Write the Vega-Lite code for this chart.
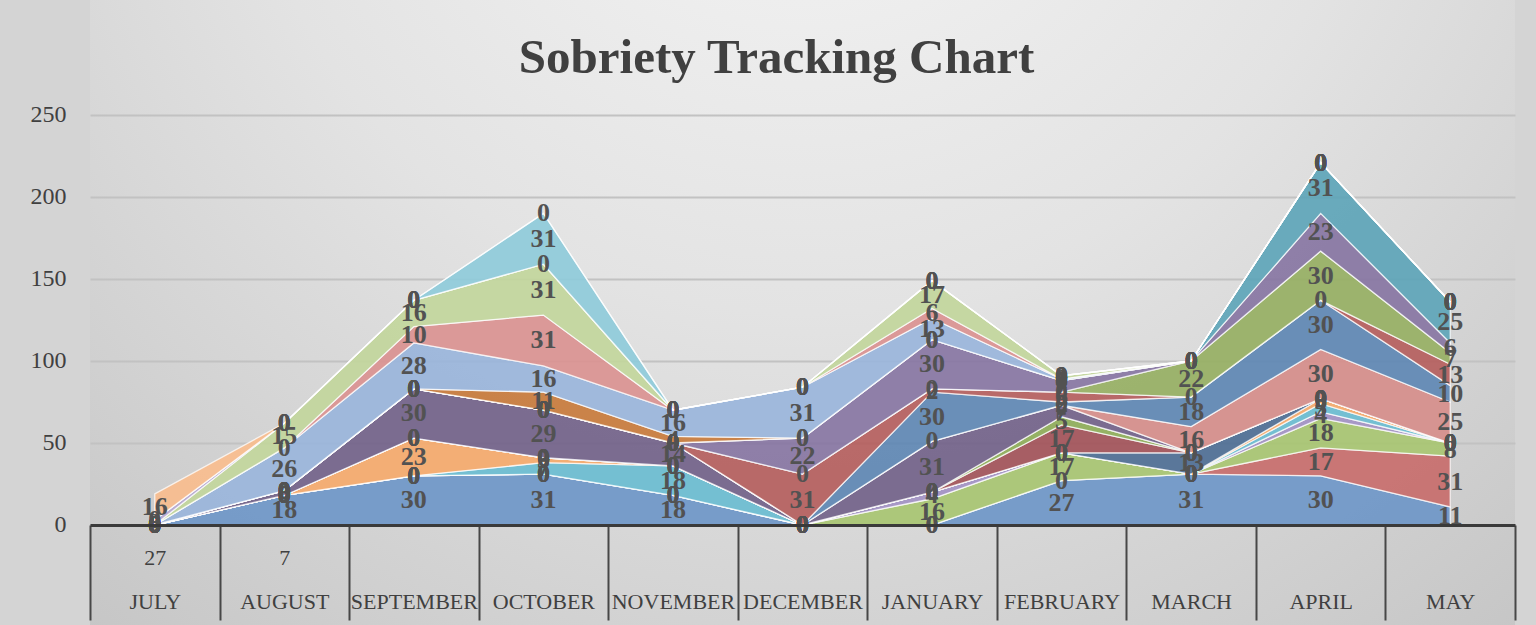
{
"$schema": "https://vega.github.io/schema/vega-lite/v6.json",
"width": 1425, "height": 625,
"autosize": {"type": "none"},
"padding": {"left": 90, "right": 21, "top": 0, "bottom": 0},
"background": "#D4D4D4",
"title": {"text": "Sobriety Tracking Chart", "font": "Liberation Serif", "fontSize": 49, "fontWeight": "bold", "color": "#404040", "anchor": "middle", "frame": "group", "baseline": "alphabetic", "offset": -75, "dx": -26, "dy": 47},
"config": {"view": {"stroke": null, "fill": {"gradient": "radial", "x1": 0.5, "y1": 0.1, "r1": 0, "x2": 0.5, "y2": 0.1, "r2": 0.8, "stops": [{"offset": 0, "color": "#F7F7F7"}, {"offset": 0.5, "color": "#E3E3E3"}, {"offset": 1, "color": "#C6C6C6"}]}}},
"data": {"values": [
{"month":"JULY","series":"S01","days":0},{"month":"AUGUST","series":"S01","days":18},{"month":"SEPTEMBER","series":"S01","days":30},{"month":"OCTOBER","series":"S01","days":31},{"month":"NOVEMBER","series":"S01","days":18},{"month":"DECEMBER","series":"S01","days":0},{"month":"JANUARY","series":"S01","days":0},{"month":"FEBRUARY","series":"S01","days":27},{"month":"MARCH","series":"S01","days":31},{"month":"APRIL","series":"S01","days":30},{"month":"MAY","series":"S01","days":11},
{"month":"JULY","series":"S02","days":0},{"month":"AUGUST","series":"S02","days":0},{"month":"SEPTEMBER","series":"S02","days":0},{"month":"OCTOBER","series":"S02","days":0},{"month":"NOVEMBER","series":"S02","days":0},{"month":"DECEMBER","series":"S02","days":0},{"month":"JANUARY","series":"S02","days":0},{"month":"FEBRUARY","series":"S02","days":0},{"month":"MARCH","series":"S02","days":0},{"month":"APRIL","series":"S02","days":17},{"month":"MAY","series":"S02","days":31},
{"month":"JULY","series":"S03","days":0},{"month":"AUGUST","series":"S03","days":0},{"month":"SEPTEMBER","series":"S03","days":0},{"month":"OCTOBER","series":"S03","days":0},{"month":"NOVEMBER","series":"S03","days":0},{"month":"DECEMBER","series":"S03","days":0},{"month":"JANUARY","series":"S03","days":16},{"month":"FEBRUARY","series":"S03","days":17},{"month":"MARCH","series":"S03","days":0},{"month":"APRIL","series":"S03","days":18},{"month":"MAY","series":"S03","days":8},
{"month":"JULY","series":"S04","days":0},{"month":"AUGUST","series":"S04","days":0},{"month":"SEPTEMBER","series":"S04","days":0},{"month":"OCTOBER","series":"S04","days":0},{"month":"NOVEMBER","series":"S04","days":0},{"month":"DECEMBER","series":"S04","days":0},{"month":"JANUARY","series":"S04","days":4},{"month":"FEBRUARY","series":"S04","days":0},{"month":"MARCH","series":"S04","days":0},{"month":"APRIL","series":"S04","days":4},{"month":"MAY","series":"S04","days":0},
{"month":"JULY","series":"S05","days":0},{"month":"AUGUST","series":"S05","days":0},{"month":"SEPTEMBER","series":"S05","days":0},{"month":"OCTOBER","series":"S05","days":7},{"month":"NOVEMBER","series":"S05","days":18},{"month":"DECEMBER","series":"S05","days":0},{"month":"JANUARY","series":"S05","days":0},{"month":"FEBRUARY","series":"S05","days":0},{"month":"MARCH","series":"S05","days":0},{"month":"APRIL","series":"S05","days":5},{"month":"MAY","series":"S05","days":0},
{"month":"JULY","series":"S06","days":0},{"month":"AUGUST","series":"S06","days":0},{"month":"SEPTEMBER","series":"S06","days":23},{"month":"OCTOBER","series":"S06","days":3},{"month":"NOVEMBER","series":"S06","days":0},{"month":"DECEMBER","series":"S06","days":0},{"month":"JANUARY","series":"S06","days":0},{"month":"FEBRUARY","series":"S06","days":0},{"month":"MARCH","series":"S06","days":0},{"month":"APRIL","series":"S06","days":3},{"month":"MAY","series":"S06","days":0},
{"month":"JULY","series":"S07","days":0},{"month":"AUGUST","series":"S07","days":0},{"month":"SEPTEMBER","series":"S07","days":0},{"month":"OCTOBER","series":"S07","days":0},{"month":"NOVEMBER","series":"S07","days":0},{"month":"DECEMBER","series":"S07","days":0},{"month":"JANUARY","series":"S07","days":0},{"month":"FEBRUARY","series":"S07","days":0},{"month":"MARCH","series":"S07","days":13},{"month":"APRIL","series":"S07","days":0},{"month":"MAY","series":"S07","days":0},
{"month":"JULY","series":"S08","days":0},{"month":"AUGUST","series":"S08","days":0},{"month":"SEPTEMBER","series":"S08","days":0},{"month":"OCTOBER","series":"S08","days":0},{"month":"NOVEMBER","series":"S08","days":0},{"month":"DECEMBER","series":"S08","days":0},{"month":"JANUARY","series":"S08","days":0},{"month":"FEBRUARY","series":"S08","days":17},{"month":"MARCH","series":"S08","days":0},{"month":"APRIL","series":"S08","days":0},{"month":"MAY","series":"S08","days":0},
{"month":"JULY","series":"S09","days":0},{"month":"AUGUST","series":"S09","days":0},{"month":"SEPTEMBER","series":"S09","days":0},{"month":"OCTOBER","series":"S09","days":0},{"month":"NOVEMBER","series":"S09","days":0},{"month":"DECEMBER","series":"S09","days":0},{"month":"JANUARY","series":"S09","days":0},{"month":"FEBRUARY","series":"S09","days":5},{"month":"MARCH","series":"S09","days":0},{"month":"APRIL","series":"S09","days":0},{"month":"MAY","series":"S09","days":0},
{"month":"JULY","series":"S10","days":0},{"month":"AUGUST","series":"S10","days":3},{"month":"SEPTEMBER","series":"S10","days":30},{"month":"OCTOBER","series":"S10","days":29},{"month":"NOVEMBER","series":"S10","days":14},{"month":"DECEMBER","series":"S10","days":0},{"month":"JANUARY","series":"S10","days":31},{"month":"FEBRUARY","series":"S10","days":7},{"month":"MARCH","series":"S10","days":0},{"month":"APRIL","series":"S10","days":0},{"month":"MAY","series":"S10","days":0},
{"month":"JULY","series":"S11","days":0},{"month":"AUGUST","series":"S11","days":0},{"month":"SEPTEMBER","series":"S11","days":0},{"month":"OCTOBER","series":"S11","days":0},{"month":"NOVEMBER","series":"S11","days":0},{"month":"DECEMBER","series":"S11","days":0},{"month":"JANUARY","series":"S11","days":0},{"month":"FEBRUARY","series":"S11","days":0},{"month":"MARCH","series":"S11","days":16},{"month":"APRIL","series":"S11","days":30},{"month":"MAY","series":"S11","days":25},
{"month":"JULY","series":"S12","days":0},{"month":"AUGUST","series":"S12","days":0},{"month":"SEPTEMBER","series":"S12","days":0},{"month":"OCTOBER","series":"S12","days":0},{"month":"NOVEMBER","series":"S12","days":0},{"month":"DECEMBER","series":"S12","days":0},{"month":"JANUARY","series":"S12","days":30},{"month":"FEBRUARY","series":"S12","days":2},{"month":"MARCH","series":"S12","days":18},{"month":"APRIL","series":"S12","days":30},{"month":"MAY","series":"S12","days":10},
{"month":"JULY","series":"S13","days":0},{"month":"AUGUST","series":"S13","days":0},{"month":"SEPTEMBER","series":"S13","days":0},{"month":"OCTOBER","series":"S13","days":0},{"month":"NOVEMBER","series":"S13","days":0},{"month":"DECEMBER","series":"S13","days":31},{"month":"JANUARY","series":"S13","days":2},{"month":"FEBRUARY","series":"S13","days":6},{"month":"MARCH","series":"S13","days":0},{"month":"APRIL","series":"S13","days":0},{"month":"MAY","series":"S13","days":13},
{"month":"JULY","series":"S14","days":0},{"month":"AUGUST","series":"S14","days":0},{"month":"SEPTEMBER","series":"S14","days":0},{"month":"OCTOBER","series":"S14","days":0},{"month":"NOVEMBER","series":"S14","days":0},{"month":"DECEMBER","series":"S14","days":0},{"month":"JANUARY","series":"S14","days":0},{"month":"FEBRUARY","series":"S14","days":0},{"month":"MARCH","series":"S14","days":22},{"month":"APRIL","series":"S14","days":30},{"month":"MAY","series":"S14","days":7},
{"month":"JULY","series":"S15","days":0},{"month":"AUGUST","series":"S15","days":0},{"month":"SEPTEMBER","series":"S15","days":0},{"month":"OCTOBER","series":"S15","days":0},{"month":"NOVEMBER","series":"S15","days":0},{"month":"DECEMBER","series":"S15","days":22},{"month":"JANUARY","series":"S15","days":30},{"month":"FEBRUARY","series":"S15","days":7},{"month":"MARCH","series":"S15","days":0},{"month":"APRIL","series":"S15","days":23},{"month":"MAY","series":"S15","days":6},
{"month":"JULY","series":"S16","days":0},{"month":"AUGUST","series":"S16","days":0},{"month":"SEPTEMBER","series":"S16","days":0},{"month":"OCTOBER","series":"S16","days":0},{"month":"NOVEMBER","series":"S16","days":0},{"month":"DECEMBER","series":"S16","days":0},{"month":"JANUARY","series":"S16","days":0},{"month":"FEBRUARY","series":"S16","days":0},{"month":"MARCH","series":"S16","days":0},{"month":"APRIL","series":"S16","days":31},{"month":"MAY","series":"S16","days":25},
{"month":"JULY","series":"S17","days":0},{"month":"AUGUST","series":"S17","days":0},{"month":"SEPTEMBER","series":"S17","days":0},{"month":"OCTOBER","series":"S17","days":11},{"month":"NOVEMBER","series":"S17","days":4},{"month":"DECEMBER","series":"S17","days":0},{"month":"JANUARY","series":"S17","days":0},{"month":"FEBRUARY","series":"S17","days":0},{"month":"MARCH","series":"S17","days":0},{"month":"APRIL","series":"S17","days":0},{"month":"MAY","series":"S17","days":0},
{"month":"JULY","series":"S18","days":0},{"month":"AUGUST","series":"S18","days":26},{"month":"SEPTEMBER","series":"S18","days":28},{"month":"OCTOBER","series":"S18","days":16},{"month":"NOVEMBER","series":"S18","days":16},{"month":"DECEMBER","series":"S18","days":31},{"month":"JANUARY","series":"S18","days":13},{"month":"FEBRUARY","series":"S18","days":1},{"month":"MARCH","series":"S18","days":0},{"month":"APRIL","series":"S18","days":0},{"month":"MAY","series":"S18","days":0},
{"month":"JULY","series":"S19","days":0},{"month":"AUGUST","series":"S19","days":0},{"month":"SEPTEMBER","series":"S19","days":10},{"month":"OCTOBER","series":"S19","days":31},{"month":"NOVEMBER","series":"S19","days":0},{"month":"DECEMBER","series":"S19","days":0},{"month":"JANUARY","series":"S19","days":6},{"month":"FEBRUARY","series":"S19","days":0},{"month":"MARCH","series":"S19","days":0},{"month":"APRIL","series":"S19","days":0},{"month":"MAY","series":"S19","days":0},
{"month":"JULY","series":"S20","days":0},{"month":"AUGUST","series":"S20","days":15},{"month":"SEPTEMBER","series":"S20","days":16},{"month":"OCTOBER","series":"S20","days":31},{"month":"NOVEMBER","series":"S20","days":0},{"month":"DECEMBER","series":"S20","days":0},{"month":"JANUARY","series":"S20","days":17},{"month":"FEBRUARY","series":"S20","days":2},{"month":"MARCH","series":"S20","days":0},{"month":"APRIL","series":"S20","days":0},{"month":"MAY","series":"S20","days":0},
{"month":"JULY","series":"S21","days":3},{"month":"AUGUST","series":"S21","days":0},{"month":"SEPTEMBER","series":"S21","days":0},{"month":"OCTOBER","series":"S21","days":0},{"month":"NOVEMBER","series":"S21","days":0},{"month":"DECEMBER","series":"S21","days":0},{"month":"JANUARY","series":"S21","days":0},{"month":"FEBRUARY","series":"S21","days":0},{"month":"MARCH","series":"S21","days":0},{"month":"APRIL","series":"S21","days":0},{"month":"MAY","series":"S21","days":0},
{"month":"JULY","series":"S22","days":0},{"month":"AUGUST","series":"S22","days":0},{"month":"SEPTEMBER","series":"S22","days":0},{"month":"OCTOBER","series":"S22","days":31},{"month":"NOVEMBER","series":"S22","days":0},{"month":"DECEMBER","series":"S22","days":0},{"month":"JANUARY","series":"S22","days":0},{"month":"FEBRUARY","series":"S22","days":0},{"month":"MARCH","series":"S22","days":0},{"month":"APRIL","series":"S22","days":0},{"month":"MAY","series":"S22","days":0},
{"month":"JULY","series":"S23","days":16},{"month":"AUGUST","series":"S23","days":0},{"month":"SEPTEMBER","series":"S23","days":0},{"month":"OCTOBER","series":"S23","days":0},{"month":"NOVEMBER","series":"S23","days":0},{"month":"DECEMBER","series":"S23","days":0},{"month":"JANUARY","series":"S23","days":0},{"month":"FEBRUARY","series":"S23","days":0},{"month":"MARCH","series":"S23","days":0},{"month":"APRIL","series":"S23","days":0},{"month":"MAY","series":"S23","days":0}
]},
"encoding": {
  "x": {"field": "month", "type": "ordinal", "sort": ["JULY","AUGUST","SEPTEMBER","OCTOBER","NOVEMBER","DECEMBER","JANUARY","FEBRUARY","MARCH","APRIL","MAY"],
        "scale": {"type": "band", "paddingInner": 0, "paddingOuter": 0}, "bandPosition": 0.5,
        "axis": {"title": null, "orient": "bottom", "offset": -100, "grid": false, "zindex": 1,
                 "domainColor": "#3A3A3A", "domainWidth": 3,
                 "ticks": true, "tickBand": "extent", "tickSize": 95, "tickColor": "#474747", "tickWidth": 2,
                 "labelPadding": -73, "labelFont": "Liberation Serif", "labelFontSize": 22, "labelColor": "#404040",
                 "labelLineHeight": 44, "labelAngle": 0, "labelOverlap": false, "labelLimit": 0,
                 "labelExpr": "datum.value == 'JULY' ? ['27', 'JULY'] : datum.value == 'AUGUST' ? ['7', 'AUGUST'] : ['', datum.value]"}}
},
"layer": [
  {"mark": {"type": "area", "stroke": "#FFFFFF", "strokeWidth": 1.3, "strokeOpacity": 0.75, "fillOpacity": 0.92},
   "encoding": {
     "y": {"field": "days", "type": "quantitative", "stack": "zero",
           "scale": {"domain": [-60.98, 320.12], "nice": false, "zero": false},
           "axis": {"title": null, "values": [0, 50, 100, 150, 200, 250], "grid": true, "gridColor": "#C2C2C2", "gridWidth": 2,
                    "domain": false, "ticks": false, "labelPadding": 24, "labelFont": "Liberation Serif", "labelFontSize": 24, "labelColor": "#404040"}},
     "color": {"field": "series", "type": "nominal", "legend": null,
               "scale": {"domain": ["S01","S02","S03","S04","S05","S06","S07","S08","S09","S10","S11","S12","S13","S14","S15","S16","S17","S18","S19","S20","S21","S22","S23"],
                         "range": ["#6F97C8","#C86E6C","#A8C672","#A393C4","#6BBDD1","#F5AA6C","#4F6F95","#A3545A","#8FAE5A","#73638A","#D68E8B","#6088B4","#B5605E","#97B064","#8876A3","#5EA5B8","#C87B3C","#9AB5DB","#DA9391","#C2D69C","#B7A9D1","#8FCBDA","#F8BD8E"]}},
     "order": {"field": "series", "sort": "ascending"}
   }},
  {"transform": [
     {"stack": "days", "groupby": ["month"], "sort": [{"field": "series", "order": "ascending"}], "as": ["v0", "v1"]},
     {"fold": ["v0", "v1"], "as": ["edge", "pos"]},
     {"aggregate": [{"op": "mean", "field": "pos", "as": "mid"}], "groupby": ["month", "series", "days"]}
   ],
   "mark": {"type": "text", "font": "Liberation Serif", "fontSize": 26, "fontWeight": "bold", "color": "#525252", "baseline": "middle", "align": "center"},
   "encoding": {
     "y": {"field": "mid", "type": "quantitative"},
     "text": {"field": "days", "type": "quantitative"}
   }}
]
}
